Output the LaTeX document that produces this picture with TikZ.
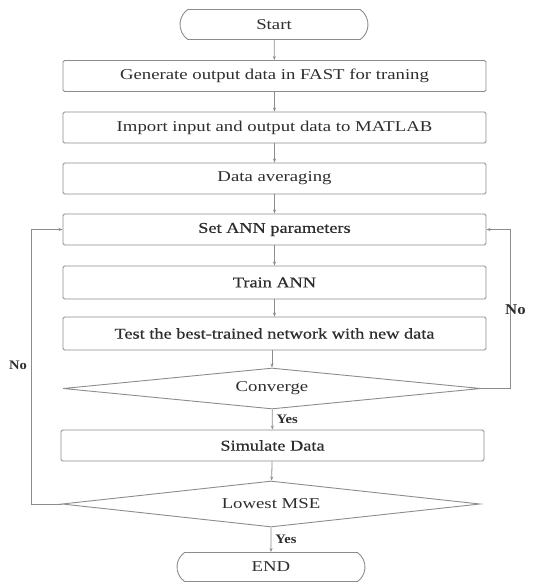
\documentclass[tikz,border=0pt]{standalone}
\usepackage{fontspec}
\setmainfont{Liberation Serif}[FakeStretch=1.25]
\newfontfamily\semib{Liberation Serif}[FakeStretch=1.22,FakeBold=0.6]
\newfontfamily\lblfont{Liberation Serif}[FakeStretch=1.12]
\usetikzlibrary{shapes.misc,shapes.geometric,arrows.meta}
\definecolor{linegray}{RGB}{140,140,140}
\definecolor{textgray}{RGB}{45,45,45}
\tikzset{
  box/.style={draw=linegray, line width=0.9pt, rounded corners=1.5pt, minimum width=423pt, minimum height=31pt, inner sep=0pt, text=textgray, font=\fontsize{15}{18}\selectfont},
  term/.style={rounded rectangle, rounded rectangle arc length=110, draw=linegray, line width=0.9pt, minimum width=188pt, minimum height=30pt, inner sep=0pt, text=textgray, font=\fontsize{15}{18}\selectfont},
  dec/.style={diamond, aspect=10, draw=linegray, line width=0.9pt, minimum width=418pt, minimum height=41pt, inner sep=0pt, text=textgray, font=\fontsize{15}{18}\selectfont},
  arr/.style={draw=linegray, line width=0.8pt, -{Stealth[length=4pt,width=3pt]}},
  lbl/.style={text=textgray, font=\lblfont\fontsize{13}{15}\selectfont\bfseries, inner sep=0pt}
}
\begin{document}
\begin{tikzpicture}[x=1pt,y=-1pt]
\useasboundingbox (0,0) rectangle (540,582);
\node[term] (start) at (274,24.5) {Start};
\node[box] (gen) at (274.5,76) {Generate output data in FAST for traning};
\node[box] (imp) at (274.5,127.5) {Import input and output data to MATLAB};
\node[box] (avg) at (274.5,178.5) {Data averaging};
\node[box] (set) at (274.5,229.5) {\semib Set ANN parameters};
\node[box, minimum height=33pt] (train) at (274.5,282.5) {\semib Train ANN};
\node[box, minimum height=33pt] (test) at (274.5,333.5) {\semib Test the best-trained network with new data};
\node[dec] (conv) at (272,388.5) {Converge};
\node[box] (sim) at (272.5,445.5) {\semib Simulate Data};
\node[dec, minimum height=46pt] (mse) at (271,504) {Lowest MSE};
\node[term, minimum height=29pt] (end) at (271,567) {END};

\coordinate (lc) at (31,504);
\coordinate (rc) at (510,388.5);

\draw[arr] (start) -- (gen);
\draw[arr] (gen) -- (imp);
\draw[arr] (imp) -- (avg);
\draw[arr] (avg) -- (set);
\draw[arr] (set) -- (train);
\draw[arr] (train) -- (test);
\draw[arr] (test.south -| conv.north) -- (conv.north);
\draw[arr] (conv) -- (sim) node[lbl, midway, anchor=west, xshift=4pt] (y1) {Yes};
\draw[arr] (sim) -- (mse);
\draw[arr] (mse) -- (end) node[lbl, midway, anchor=west, xshift=4pt] (y2) {Yes};
\draw[arr] (mse.west) -- (lc) |- (set.west);
\draw[arr] (conv.east) -- (rc) |- (set.east);
\node[lbl] (no1) at (18,365) {No};
\node[lbl, anchor=west, font=\lblfont\fontsize{15}{17}\selectfont\bfseries] (no2) at (505,310) {No};
\end{tikzpicture}
\end{document}
